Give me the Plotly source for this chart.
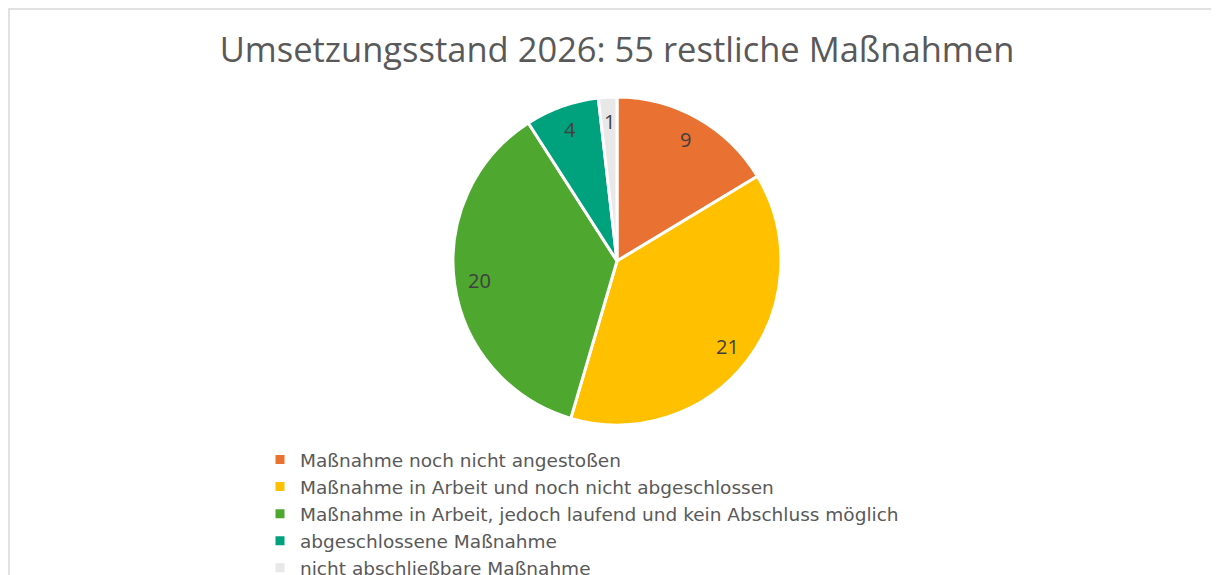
import math
import plotly.graph_objects as go

labels = [
    "Maßnahme noch nicht angestoßen",
    "Maßnahme in Arbeit und noch nicht abgeschlossen",
    "Maßnahme in Arbeit, jedoch laufend und kein Abschluss möglich",
    "abgeschlossene Maßnahme",
    "nicht abschließbare Maßnahme",
]
values = [9, 21, 20, 4, 1]
colors = ["#E97132", "#FFC000", "#4EA72E", "#00A27E", "#E8E8E8"]
title_text = "Umsetzungsstand 2026: 55 restliche Maßnahmen"

W, H = 1219, 575
OFF = 8  # page body margin
cx, cy, r = 617 - OFF, 261 - OFF, 164
label_frac = 0.85

fig = go.Figure(go.Pie(
    labels=labels,
    values=values,
    sort=False,
    direction="clockwise",
    rotation=0,
    marker=dict(colors=colors, line=dict(color="white", width=3)),
    textinfo="none",
    domain=dict(x=[(cx - r) / W, (cx + r) / W], y=[(H - cy - r) / H, (H - cy + r) / H]),
    hoverinfo="label+value",
))

# data labels at the mid-angle of each slice (computed from values)
total = sum(values)
cum = 0
annotations = []
for v in values:
    mid = (cum + v / 2) / total * 2 * math.pi
    cum += v
    px = cx + label_frac * r * math.sin(mid)
    py = cy - label_frac * r * math.cos(mid)
    annotations.append(dict(
        x=px / W, y=1 - py / H, xref="paper", yref="paper",
        text=str(v), showarrow=False, xanchor="center", yanchor="middle",
        font=dict(size=20, color="#404040", family="Open Sans"),
    ))

fig.update_layout(
    width=W, height=H,
    margin=dict(l=0, r=0, t=0, b=0, autoexpand=False),
    paper_bgcolor="white",
    font=dict(family="Open Sans", color="#595959"),
    title=dict(text=title_text, x=(617 - OFF) / W, xanchor="center", y=1 - (50 - OFF) / H,
               yanchor="middle", font=dict(size=34.5, color="#595959", family="Open Sans")),
    showlegend=True,
    legend=dict(x=252 / W, xanchor="left", y=1 - 433 / H, yanchor="top",
                font=dict(size=18.5, color="#595959", family="DejaVu Sans"),
                bgcolor="rgba(0,0,0,0)", traceorder="normal"),
    annotations=annotations,
    shapes=[dict(type="rect", xref="paper", yref="paper",
                 x0=1 / W, x1=1.02, y0=-0.05, y1=1 - 1 / H,
                 line=dict(color="#D9D9D9", width=1.5))],
)

fig.write_html("out.html")
